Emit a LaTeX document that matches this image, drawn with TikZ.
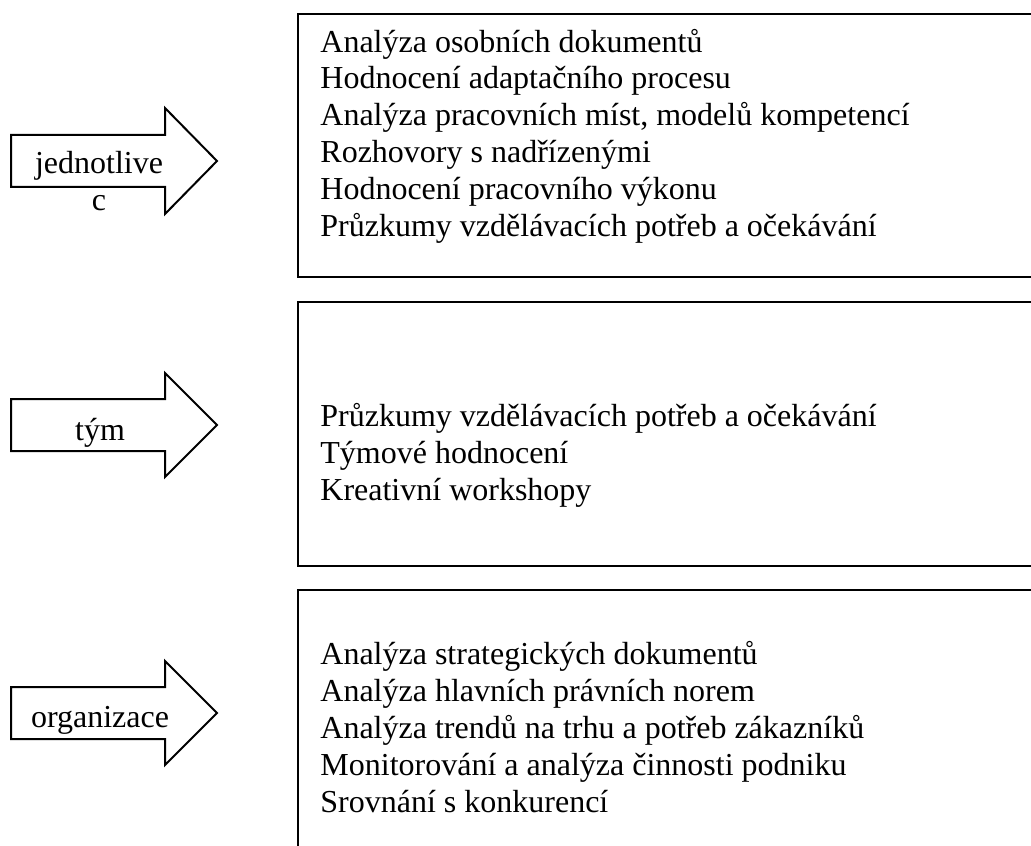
\documentclass[tikz,border=0pt]{standalone}
\usepackage{fontspec}
\setmainfont{Liberation Serif}
\begin{document}
\begin{tikzpicture}[x=0.5pt,y=0.5pt]
			\tikzset{every node/.style={inner sep=0pt, font=\fontsize{16}{18.4}\selectfont}}
			\tikzset{itemtext/.style={anchor=base west, align=left}}
			\tikzset{arrowtext/.style={anchor=base, align=center}}
			\useasboundingbox (0,0) rectangle (1031,-845);
			\clip (0,0) rectangle (1031,-845);
			% arrows
			\draw [black, line width=1pt, line join=miter] (11,-135) -- (165,-135) -- (165,-108) -- (217,-161) -- (165,-214) -- (165,-187) -- (11,-187) -- cycle;
			\draw (99,-210) node [arrowtext] (jednotlivec) {jednotlive\\c};
			\draw [black, line width=1pt, line join=miter] (11,-399) -- (165,-399) -- (165,-373) -- (217,-425) -- (165,-477) -- (165,-451) -- (11,-451) -- cycle;
			\draw (100,-440) node [arrowtext] (tym) {tým};
			\draw [black, line width=1pt, line join=miter] (11,-687) -- (165,-687) -- (165,-661) -- (217,-713) -- (165,-765) -- (165,-739) -- (11,-739) -- cycle;
			\draw (100,-727) node [arrowtext] (organizace) {organizace};
			% boxes
			\draw [black, line width=1pt] (298,-14) rectangle (1045,-277);
			\draw (320,-236) node [itemtext] (jednotlivecbox) {Analýza osobních dokumentů\\Hodnocení adaptačního procesu\\Analýza pracovních míst, modelů kompetencí\\Rozhovory s nadřízenými\\Hodnocení pracovního výkonu\\Průzkumy vzdělávacích potřeb a očekávání};
			\draw [black, line width=1pt] (298,-302) rectangle (1045,-566);
			\draw (320,-500) node [itemtext] (tymbox) {Průzkumy vzdělávacích potřeb a očekávání\\Týmové hodnocení\\Kreativní workshopy};
			\draw [black, line width=1pt] (298,-590) rectangle (1045,-870);
			\draw (320,-812) node [itemtext] (organizacebox) {Analýza strategických dokumentů\\Analýza hlavních právních norem\\Analýza trendů na trhu a potřeb zákazníků\\Monitorování a analýza činnosti podniku\\Srovnání s konkurencí};
\end{tikzpicture}
\end{document}
